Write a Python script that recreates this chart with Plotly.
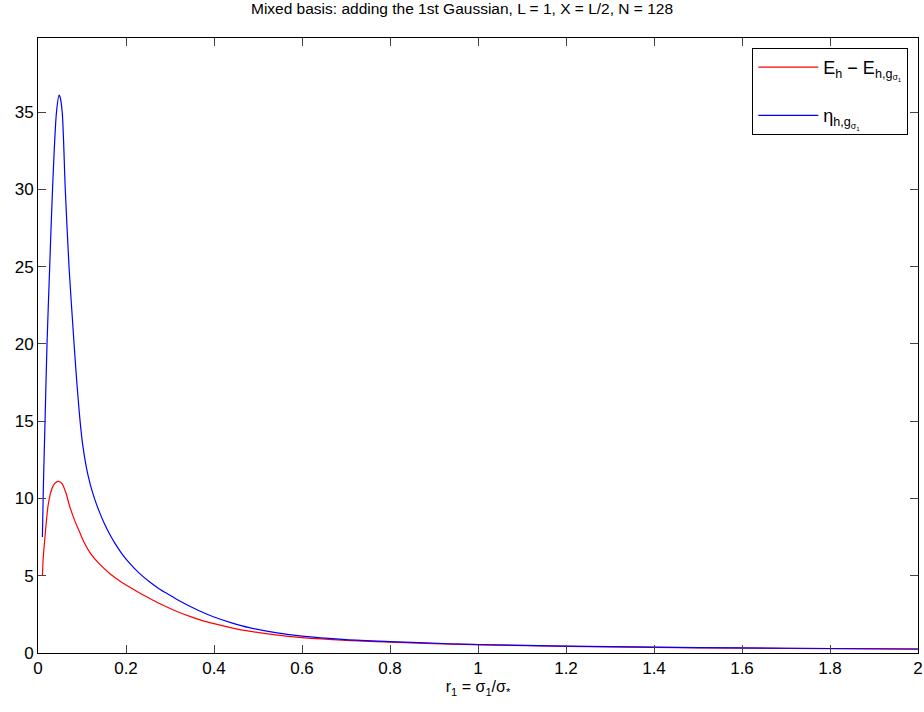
import plotly.graph_objects as go

x_gap = [0.01, 0.012, 0.0152, 0.019, 0.0227, 0.028, 0.034, 0.041, 0.048, 0.055,
         0.063, 0.072, 0.083, 0.095, 0.105, 0.118, 0.14, 0.163, 0.185, 0.209,
         0.23, 0.254, 0.275, 0.299, 0.32, 0.345, 0.37, 0.4, 0.44, 0.48, 0.54,
         0.6, 0.7, 0.8, 0.935, 1.0, 1.2, 1.4, 1.6, 1.8, 2.0]
gap = [5.0, 6.2, 7.3, 8.5, 9.5, 10.3, 10.8, 11.05, 11.1, 10.95,
       10.4, 9.5, 8.6, 7.8, 7.15, 6.5, 5.75, 5.15, 4.68, 4.25,
       3.9, 3.53, 3.22, 2.9, 2.64, 2.37, 2.13, 1.9, 1.63, 1.41, 1.17,
       1.0, 0.82, 0.7, 0.58, 0.53, 0.43, 0.36, 0.32, 0.28, 0.25]

x_eta = [0.01, 0.012, 0.016, 0.0205, 0.0266, 0.033, 0.042, 0.048, 0.05, 0.055,
         0.062, 0.0705, 0.082, 0.088, 0.095, 0.101, 0.11, 0.118, 0.125, 0.133,
         0.14, 0.15, 0.163, 0.175, 0.19, 0.209, 0.23, 0.254, 0.275, 0.299,
         0.32, 0.345, 0.3675, 0.4, 0.44, 0.48, 0.54, 0.6, 0.7, 0.8, 0.935,
         1.0, 1.2, 1.4, 1.6, 1.8, 2.0]
eta = [7.5, 10.5, 15.0, 20.0, 25.0, 30.0, 35.0, 36.1, 36.0, 35.0,
       30.0, 25.0, 20.0, 17.6, 15.2, 13.6, 12.0, 11.0, 10.3, 9.62,
       9.1, 8.43, 7.68, 7.09, 6.45, 5.78, 5.17, 4.59, 4.16, 3.75,
       3.40, 3.03, 2.72, 2.33, 1.95, 1.64, 1.32, 1.09, 0.87, 0.74, 0.6,
       0.55, 0.45, 0.38, 0.33, 0.29, 0.26]

FONT = "Liberation Sans, Arial, Helvetica, sans-serif"

fig = go.Figure()
fig.add_trace(go.Scatter(
    x=x_gap, y=gap, mode="lines", legendgroup="a",
    line=dict(color="#ff0000", width=1.2, shape="spline", smoothing=0.8),
    name="E<sub>h</sub> \u2212 E<sub>h,g<sub>\u03c3<sub>1</sub></sub></sub>",
))
fig.add_trace(go.Scatter(
    x=x_eta, y=eta, mode="lines", legendgroup="b",
    line=dict(color="#0000ff", width=1.2, shape="spline", smoothing=0.8),
    name="\u03b7<sub>h,g<sub>\u03c3<sub>1</sub></sub></sub>",
))

axis_common = dict(
    showline=True, linecolor="black", linewidth=1, mirror="ticks",
    ticks="inside", ticklen=8, tickcolor="#444", tickwidth=1,
    showgrid=False, zeroline=False, automargin=False,
    ticklabeloverflow="allow",
    tickfont=dict(family=FONT, size=17, color="black"),
)

fig.update_layout(
    width=924, height=712,
    paper_bgcolor="white", plot_bgcolor="white",
    margin=dict(l=38, r=6, t=38, b=59),
    title=dict(
        text="Mixed basis: adding the 1st Gaussian, L = 1, X = L/2, N = 128",
        x=0.5, xanchor="center", y=0.995, yanchor="top",
        font=dict(family=FONT, size=15.5, color="black"),
    ),
    xaxis=dict(range=[0, 2], dtick=0.2, tick0=0,
               title=dict(text="r<sub>1</sub> = \u03c3<sub>1</sub>/\u03c3<sub>*</sub>",
                          font=dict(family=FONT, size=16, color="black"), standoff=2),
               **axis_common),
    yaxis=dict(range=[0, 39.8], dtick=5, tick0=0, **axis_common),
    legend=dict(
        x=0.989, y=0.984, xanchor="right", yanchor="top",
        bgcolor="white", bordercolor="black", borderwidth=1,
        font=dict(family=FONT, size=18, color="black"),
        itemwidth=60, tracegroupgap=22,
    ),
    showlegend=True,
)

# the page body has a default 8px margin; drop it so the figure fills the window
fig.write_html("out.html", config={"displayModeBar": False},
               post_script="document.body.style.margin='0px';")
